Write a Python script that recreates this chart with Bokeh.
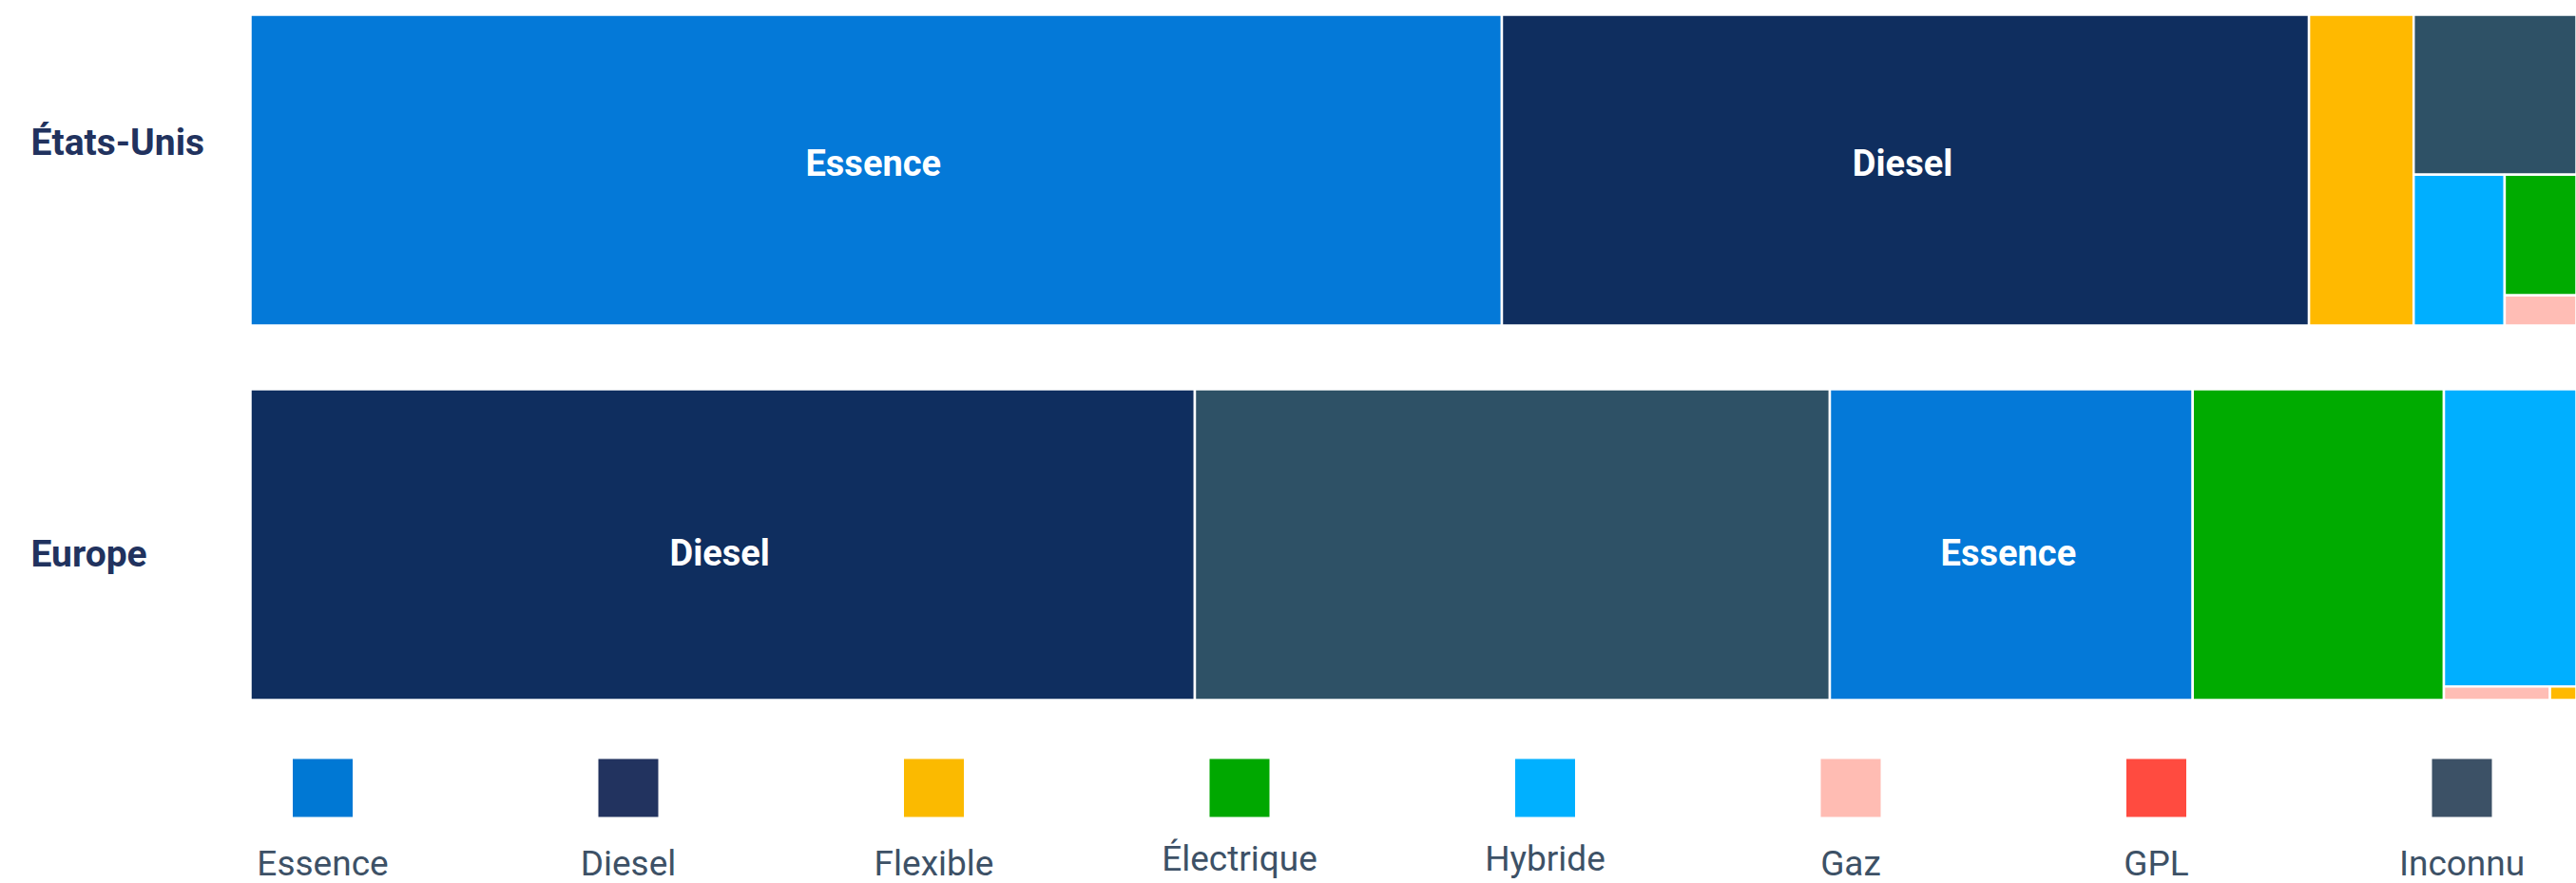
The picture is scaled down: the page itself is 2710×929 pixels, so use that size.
from bokeh.plotting import figure
from bokeh.models import Range1d, ColumnDataSource
from bokeh.core.properties import value
from bokeh.embed import file_html
from bokeh.resources import INLINE

# ---------------- data ----------------
rows = ["États-Unis", "Europe"]

us_fuels = ["Essence", "Diesel", "Flexible", "Inconnu", "Hybride", "Électrique", "Gaz"]
us_shares = [53.8, 34.7, 4.5, 3.6, 1.9, 1.2, 0.3]

eu_fuels = ["Diesel", "Inconnu", "Essence", "Électrique", "Hybride", "Gaz", "Flexible"]
eu_shares = [40.6, 27.3, 15.6, 10.8, 5.45, 0.2, 0.05]

legend_labels = ["Essence", "Diesel", "Flexible", "Électrique", "Hybride", "Gaz", "GPL", "Inconnu"]
labelled_fuels = ["Essence", "Diesel"]

# ---------------- styles ----------------
tile_colors = {
    "Essence": "#0479D8", "Diesel": "#0F2E5F", "Flexible": "#FFB900",
    "Électrique": "#00AB00", "Hybride": "#00AFFF", "Gaz": "#FFBDB5",
    "GPL": "#FF4B40", "Inconnu": "#2E5166",
}
legend_colors = {
    "Essence": "#0078D4", "Diesel": "#22335F", "Flexible": "#FBBA00",
    "Électrique": "#00A800", "Hybride": "#00B0FF", "Gaz": "#FFBCB3",
    "GPL": "#FF4B40", "Inconnu": "#3C5166",
}

W, H = 2710, 929
BOX_LEFT, BOX_RIGHT = 263, W
ROW_TOPS = [15, 409]
ROW_H = 327
ROW_LABEL_X = 32
ROW_LABEL_MID = [149.5, 582.5]
TILE_LABEL_MID = [156, 172]   # offset from row top
PHI = (1 + 5 ** 0.5) / 2

LEG_X0, LEG_STEP = 339, 321.5
LEG_SQ_W, LEG_SQ_TOP, LEG_SQ_BOT = 63, 798, 859
LEG_TEXT_MID = 908


def strip_layout(vals, x, y, w, h):
    rem = float(sum(vals))
    out = []
    for v in vals:
        if w / h > 1 / PHI:
            sw = w * v / rem
            out.append((x, x + sw, y, y + h))
            x += sw
            w -= sw
        else:
            sh = h * v / rem
            out.append((x, x + w, y, y + sh))
            y += sh
            h -= sh
        rem -= v
    return out


p = figure(width=W, height=H, x_range=Range1d(0, W), y_range=Range1d(H, 0),
           output_backend="svg", toolbar_location=None, min_border=0,
           x_axis_location=None, y_axis_location=None)
p.grid.visible = False
p.outline_line_color = None
p.background_fill_color = "white"
p.border_fill_color = "white"

lab_x, lab_y, lab_t = [], [], []
for ri, (fuels, shares) in enumerate([(us_fuels, us_shares), (eu_fuels, eu_shares)]):
    rects = strip_layout(shares, BOX_LEFT, ROW_TOPS[ri], BOX_RIGHT - BOX_LEFT, ROW_H)
    src = ColumnDataSource(dict(
        left=[r[0] for r in rects], right=[r[1] for r in rects],
        top=[r[2] for r in rects], bottom=[r[3] for r in rects],
        color=[tile_colors[f] for f in fuels]))
    p.quad(left="left", right="right", top="top", bottom="bottom", source=src,
           fill_color="color", line_color="white", line_width=2.5)
    for f, r in zip(fuels, rects):
        if f in labelled_fuels:
            lab_x.append((r[0] + r[1]) / 2 - 3)
            lab_y.append(ROW_TOPS[ri] + TILE_LABEL_MID[ri])
            lab_t.append(f)

p.text(x=lab_x, y=lab_y, text=lab_t, text_align="center", text_baseline="middle",
       text_font=value("Roboto"), text_font_style="bold", text_font_size="38px",
       text_color="white")

p.text(x=[ROW_LABEL_X] * len(rows), y=ROW_LABEL_MID, text=rows, text_align="left",
       text_baseline="middle", text_font=value("Roboto"), text_font_style="bold",
       text_font_size="39px", text_color="#21325E")

# legend
lx = [LEG_X0 + i * LEG_STEP for i in range(len(legend_labels))]
p.quad(left=[x - LEG_SQ_W / 2 for x in lx], right=[x + LEG_SQ_W / 2 for x in lx],
       top=[LEG_SQ_TOP] * len(lx), bottom=[LEG_SQ_BOT] * len(lx),
       fill_color=[legend_colors[l] for l in legend_labels], line_color=None)
ly = [LEG_TEXT_MID - (5 if any(c in "gjpqy" for c in l) else 0) for l in legend_labels]
p.text(x=lx, y=ly, text=legend_labels, text_align="center", text_baseline="middle",
       text_font=value("Roboto"), text_font_size="37px", text_color="#3D5166")

open("out.html", "w").write(file_html(p, INLINE))
